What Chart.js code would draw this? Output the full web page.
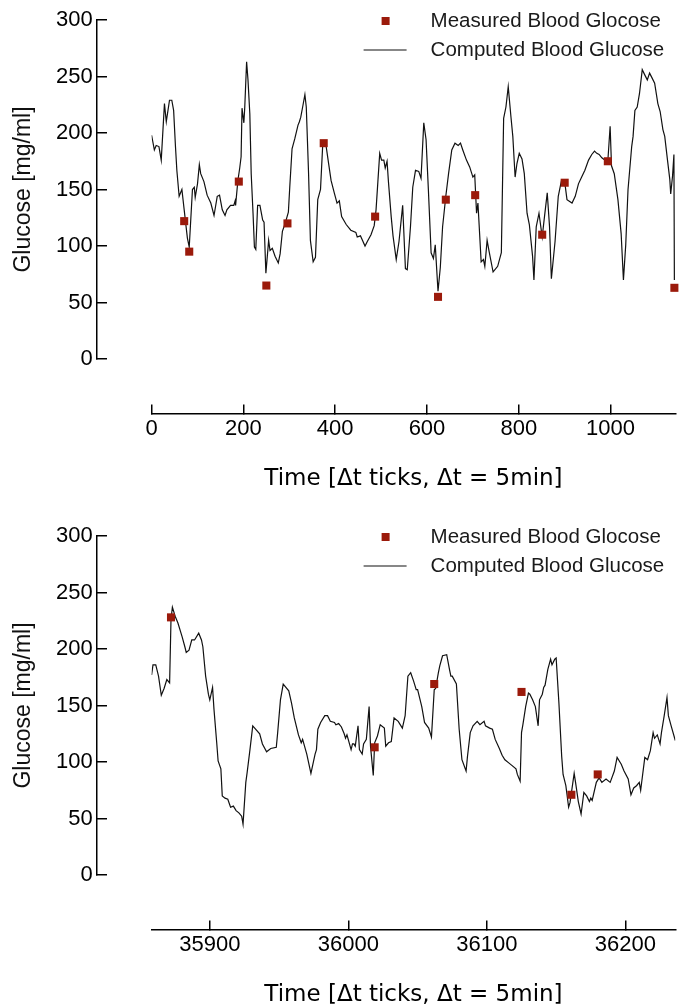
<!DOCTYPE html>
<html>
<head>
<meta charset="utf-8">
<script src="https://cdn.jsdelivr.net/npm/chart.js@4.4.1/dist/chart.umd.min.js"></script>
<style>
  html, body { margin: 0; padding: 0; background: #fff; }
  canvas { display: block; }
</style>
</head>
<body>
<canvas id="chart_top" width="681" height="516"></canvas>
<canvas id="chart_bottom" width="681" height="491"></canvas>
<script>
// tick labels
const yTicks = [0, 50, 100, 150, 200, 250, 300];
const topXTicks = [0, 200, 400, 600, 800, 1000];
const bottomXTicks = [35900, 36000, 36100, 36200];

// upper panel: computed glucose trace
const topTime = [0,6,10,16,21,28,32,39,44,48,52,55,60,66,71,78,82,89,93,95,100,104,107,114,121,129,136,143,148,154,
  160,164,172,179,182,183,188,192,195,197,201,203,207,210,214,217,221,224,227,231,236,242,245,249,255,258,263,269,276,280,
  285,291,298,301,306,312,319,322,325,330,334,337,342,346,352,357,362,368,373,380,386,391,398,404,409,414,424,434,445,448,
  455,465,470,478,485,489,493,497,501,506,509,513,516,522,526,533,539,547,553,557,564,569,575,582,587,593,598,603,609,614,
  618,624,629,634,641,647,654,661,668,673,678,686,693,700,704,708,711,718,723,726,731,735,744,754,762,767,772,777,783,787,
  792,796,801,807,812,818,823,830,833,838,844,851,856,862,867,871,879,886,893,900,905,916,923,930,937,944,952,959,965,970,
  975,981,988,994,999,1002,1008,1016,1023,1028,1033,1038,1046,1049,1053,1058,1063,1069,1075,1080,1085,1090,1096,1103,1108,1114,1118,1124,1129,1131,
  1135,1138,1139];
const topComputed = [198,185,189,188,176,226,210,229,229,220,188,167,144,150,132,107,99,150,152,143,155,172,164,157,145,138,127,144,145,132,
  127,132,136,136,140,136,158,169,179,222,209,223,263,247,217,164,129,99,97,136,136,123,121,76,105,96,98,91,85,93,
  113,120,130,152,186,195,207,210,214,225,234,223,164,105,86,90,141,150,191,189,172,158,147,138,140,126,119,114,112,108,
  109,100,104,110,118,132,157,182,176,176,169,175,157,126,109,88,104,136,80,79,117,152,167,166,160,209,194,150,94,89,
  101,60,81,117,144,164,185,191,189,191,185,176,170,161,163,129,138,86,88,82,105,96,77,82,94,213,223,241,214,197,
  161,173,182,177,164,129,119,91,70,117,129,108,126,147,117,71,104,144,158,157,141,138,144,155,161,167,176,181,184,182,
  181,178,176,175,206,171,164,141,111,70,101,150,188,197,220,223,235,256,251,247,253,249,244,226,219,203,197,176,159,146,
  162,181,70];
// upper panel: measured values
const topMeasuredTime = [71, 82, 190, 250, 296, 375, 487, 624, 641, 705, 851, 900, 994, 1139];
const topMeasured = [122, 95, 157, 65, 120, 191, 126, 55, 141, 145, 110, 156, 175, 63];

// lower panel: computed glucose trace
const bottomTime = [35858,35859,35861,35863,35865,35867,35869,35871,35872,35873,
  35875,35877,35880,35882,35883,35885,35887,35889,35892,35894,
  35895,35897,35899,35900,35902,35903,35905,35906,35908,35909,
  35911,35913,35915,35917,35919,35921,35923,35924,35926,35927,
  35929,35931,35936,35938,35941,35944,35948,35949,35951,35953,
  35957,35959,35961,35964,35966,35967,35970,35973,35976,35977,
  35978,35980,35983,35985,35987,35990,35991,35993,35995,35997,
  35998,35999,36002,36003,36004,36005,36007,36008,36010,36011,
  36013,36015,36016,36018,36019,36021,36023,36026,36027,36029,
  36031,36033,36036,36039,36041,36043,36045,36047,36049,36050,
  36053,36055,36058,36060,36062,36063,36065,36066,36068,36071,
  36073,36074,36075,36078,36080,36082,36085,36086,36088,36090,
  36093,36095,36098,36099,36102,36104,36106,36109,36111,36113,
  36116,36118,36121,36122,36124,36125,36126,36128,36130,36131,
  36133,36135,36137,36138,36140,36141,36142,36144,36146,36147,
  36149,36150,36152,36154,36155,36157,36159,36160,36163,36164,
  36166,36168,36170,36172,36174,36175,36176,36179,36181,36183,
  36186,36189,36192,36194,36197,36199,36202,36204,36206,36208,
  36210,36211,36214,36216,36218,36220,36221,36223,36225,36226,
  36228,36230,36231,36233,36236];
const bottomComputed = [177,186,186,176,159,165,173,170,226,237,
  229,223,211,202,197,199,208,208,214,208,
  202,176,160,155,166,147,117,101,94,70,
  68,67,60,61,57,55,52,45,82,91,
  111,132,125,116,109,112,113,126,155,169,
  163,152,139,124,117,120,107,90,107,111,
  129,135,141,141,136,135,133,134,131,125,
  121,124,111,116,116,114,132,111,107,116,
  120,149,114,88,117,123,133,130,114,117,
  118,139,136,130,141,176,179,172,164,164,
  149,135,130,122,164,165,179,185,194,195,
  182,176,176,169,129,102,92,105,126,132,
  136,133,136,132,130,129,120,112,106,102,
  99,97,94,89,83,126,133,149,161,160,
  155,149,132,155,160,166,168,182,191,186,
  191,192,152,105,89,79,60,64,90,82,
  65,54,73,70,65,68,66,82,86,82,
  85,82,92,104,98,92,85,71,77,79,
  82,75,104,102,110,126,121,124,116,126,
  141,157,141,132,119];
// lower panel: measured values
const bottomMeasuredTime = [35872, 36019, 36062, 36125, 36161, 36180];
const bottomMeasured = [228, 113, 169, 162, 71, 89];

Chart.defaults.font.family = "'Liberation Sans', Arial, sans-serif";
Chart.defaults.color = '#000';

// legend drawn inside the plot, upper right
const insideLegend = {
  id: 'insideLegend',
  afterDraw(chart) {
    const { ctx, chartArea } = chart;
    const [line, dots] = chart.data.datasets;
    const mx = chartArea.left + 234;
    const tx = chartArea.left + 279;
    const row1 = 21, row2 = 50;
    ctx.save();
    ctx.fillStyle = dots.backgroundColor;
    ctx.fillRect(mx - 4, row1 - 4, 8, 8);
    ctx.strokeStyle = line.borderColor;
    ctx.lineWidth = 1.2;
    ctx.beginPath();
    ctx.moveTo(mx - 22, row2);
    ctx.lineTo(mx + 21, row2);
    ctx.stroke();
    ctx.fillStyle = '#1a1a1a';
    ctx.font = "20.5px 'Liberation Sans', Arial, sans-serif";
    ctx.textBaseline = 'middle';
    ctx.fillText(dots.label, tx, row1);
    ctx.fillText(line.label, tx, row2);
    ctx.restore();
  },
};

function buildChart(canvasId, cfg) {
  const computed = cfg.time.map((t, i) => ({ x: t, y: cfg.computed[i] }));
  const measured = cfg.measuredTime.map((t, i) => ({ x: t, y: cfg.measured[i] }));
  return new Chart(document.getElementById(canvasId), {
    type: 'scatter',
    data: {
      datasets: [
        {
          label: 'Computed Blood Glucose',
          data: computed,
          showLine: true,
          borderColor: '#111',
          borderWidth: 1.2,
          pointRadius: 0,
          order: 2,
        },
        {
          label: 'Measured Blood Glocose',
          data: measured,
          pointStyle: 'rect',
          pointRadius: 5.7,
          backgroundColor: '#9b1a0b',
          borderWidth: 0,
          clip: false,
          order: 1,
        },
      ],
    },
    options: {
      responsive: false,
      animation: false,
      devicePixelRatio: 1,
      events: [],
      layout: { padding: { top: 20, right: 0, bottom: cfg.padBottom, left: 0 } },
      plugins: {
        legend: { display: false },
        tooltip: { enabled: false },
        title: {
          display: true,
          text: 'Glucose [mg/ml]',
          position: 'left',
          fullSize: false,
          color: '#111',
          font: { size: 23, weight: 'normal' },
          padding: { top: 10, bottom: 114 },
        },
      },
      scales: {
        x: {
          type: 'linear',
          axis: 'x',
          min: cfg.xMin,
          max: cfg.xMax,
          position: { y: -48.7 },
          afterBuildTicks: (s) => { s.ticks = cfg.xTicks.map((v) => ({ value: v })); },
          afterFit: (s) => { s.height = 92; },
          border: { color: '#000', width: 1.5 },
          grid: { drawOnChartArea: false, tickLength: -10, color: '#000', lineWidth: 1.5 },
          ticks: {
            color: '#000', padding: 12, autoSkip: false, maxRotation: 0, font: { size: 22 },
            callback: (v) => String(v),
          },
          title: {
            display: true,
            text: 'Time [Δt ticks, Δt = 5min]',
            color: '#000',
            font: { family: "'DejaVu Sans', sans-serif", size: 23 },
            padding: { top: 0, bottom: 13 },
          },
        },
        y: {
          type: 'linear',
          axis: 'y',
          min: 0,
          max: 300,
          position: { x: cfg.yAxisAt },
          afterBuildTicks: (s) => { s.ticks = yTicks.map((v) => ({ value: v })); },
          border: { color: '#000', width: 1.5 },
          grid: { drawOnChartArea: false, tickLength: -11, color: '#000', lineWidth: 1.5 },
          ticks: {
            color: '#000', font: { size: 22 },
            callback: (v) => String(v) + '\u2009',
          },
        },
      },
    },
    plugins: [insideLegend],
  });
}

buildChart('chart_top', {
  time: topTime, computed: topComputed,
  measuredTime: topMeasuredTime, measured: topMeasured,
  xTicks: topXTicks, xMin: 0, xMax: 1141, yAxisAt: -118.6, padBottom: 157,
});

buildChart('chart_bottom', {
  time: bottomTime, computed: bottomComputed,
  measuredTime: bottomMeasuredTime, measured: bottomMeasured,
  xTicks: bottomXTicks, xMin: 35858, xMax: 36236, yAxisAt: 35818.7, padBottom: 132,
});
</script>
</body>
</html>
